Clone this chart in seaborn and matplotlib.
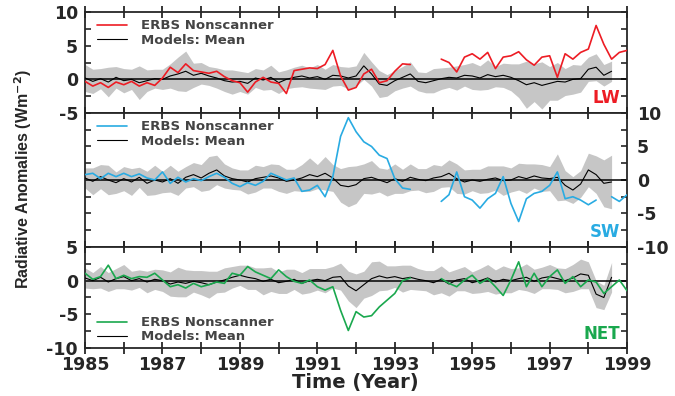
import numpy as np
import matplotlib
matplotlib.use("Agg")
import matplotlib.pyplot as plt
import seaborn as sns
from matplotlib.ticker import MultipleLocator

nan = np.nan

# 72-day time grid, 1985.0 .. 1999.0
years = np.round(np.arange(1985.0, 1999.01, 0.2), 1)

# LW panel
erbs_lw = [-0.3, -1.0, -0.5, -1.2, -0.4, -0.8, -0.3, -1.0, -0.5, -0.9,
           0.2, 1.8, 1.0, 2.3, 1.3, 1.1, 0.9, 1.2, 0.4, -0.2,
           -0.5, -1.9, -0.4, 0.3, -0.4, -0.6, -2.1, 1.3, 1.5, 1.7,
           1.6, 2.2, 4.3, 0.5, -1.6, -1.2, 0.8, 1.5, -0.5, -0.2,
           1.2, 2.3, 2.2, nan, nan, nan, 3.0, 2.5, 1.1, 3.3,
           3.8, 3.0, 4.0, 1.6, 3.3, 3.5, 4.1, 2.9, 2.1, 3.3,
           3.5, 0.3, 3.8, 3.0, 4.0, 4.5, 8.0, 5.2, 3.0, 4.0,
           4.3]
mean_lw = [0.2, -0.3, 0.1, -0.4, 0.3, -0.2, 0.0, -0.5, -0.2, 0.1,
           0.0, 0.5, 0.8, 1.2, 0.6, 0.9, 0.5, 0.2, -0.2, -0.4,
           -0.3, -0.6, 0.2, -0.1, 0.3, -0.5, 0.0, 0.3, 0.5, 0.2,
           0.4, 0.0, 0.6, 0.5, 0.2, 0.5, 2.0, 0.8, -0.7, -0.9,
           -0.2, 0.3, 0.8, -0.3, -0.5, -0.2, 0.1, 0.3, 0.2, 0.6,
           0.5, 0.2, 0.7, 0.4, 0.6, 0.3, -0.2, -0.8, -0.5, -0.9,
           -0.6, -0.3, -0.4, 0.0, 0.1, 1.5, 1.8, 0.6, 1.2, nan,
           nan]
spread_lw = [2.0, 1.8, 1.5, 2.2, 1.6, 1.8, 1.5, 2.5, 1.6, 1.4,
             1.5, 1.8, 2.5, 3.0, 1.8, 1.6, 1.4, 1.5, 1.6, 1.8,
             1.5, 1.6, 1.4, 1.5, 1.8, 1.6, 1.4, 1.5, 1.6, 1.5,
             1.8, 1.5, 1.6, 1.4, 1.6, 1.5, 2.0, 1.8, 2.0, 1.6,
             1.5, 1.6, 1.8, 1.4, 1.5, 1.8, 1.6, 1.5, 1.8, 1.6,
             2.0, 1.8, 2.2, 1.5, 1.8, 2.0, 2.5, 3.5, 2.8, 3.5,
             2.5, 2.8, 2.0, 2.2, 2.0, 1.8, 2.0, 1.6, 1.5, nan,
             nan]

# SW panel
erbs_sw = [0.8, 1.0, 0.2, 1.0, 0.5, 1.0, 0.5, 0.9, 0.3, 0.0,
           1.2, -0.5, 0.4, -0.3, 0.2, -0.1, 0.5, 1.0, 0.4, -0.5,
           -1.0, -0.4, -0.8, -0.2, 1.0, 0.5, 0.0, 0.3, -1.7, -1.5,
           -0.8, -2.5, 0.5, 6.5, 9.3, 7.2, 5.7, 5.0, 3.7, 3.2,
           0.2, -1.2, -1.4, nan, nan, nan, -3.2, -2.2, 1.2, -2.5,
           -3.0, -4.2, -2.8, -2.0, 0.5, -3.5, -6.2, -2.8, -2.0, -1.7,
           -0.8, 1.2, -2.8, -2.5, -3.0, -3.7, -3.0, nan, -2.5, -3.2,
           -2.2]
mean_sw = [0.3, -0.2, 0.5, 0.0, -0.4, 0.2, -0.3, 0.4, -0.5, 0.0,
           -0.3, 0.2, -0.5, 0.4, 0.8, 0.3, 1.0, 1.5, 0.6, 0.2,
           0.0, -0.3, 0.2, 0.4, 0.6, 0.3, -0.2, 0.0, 0.3, 0.8,
           0.5, 1.0, 0.3, -0.8, -1.0, -0.7, 0.2, 0.4, 0.0, -0.4,
           0.2, -0.2, 0.4, 0.1, -0.1, 0.3, 0.5, 1.0, 0.2, -0.3,
           0.0, -0.2, 0.1, 0.3, -0.1, 0.0, 0.5, 0.2, 0.6, 0.3,
           0.2, 0.4, -0.8, -1.5, -0.6, 1.5, 0.8, -0.5, -0.3, nan,
           nan]
spread_sw = [1.5, 2.0, 1.8, 2.2, 1.6, 1.8, 2.0, 1.5, 1.8, 2.2,
             1.6, 2.0, 1.8, 1.6, 1.8, 2.0, 2.5, 2.2, 1.8, 1.6,
             1.5, 1.8, 2.0, 1.6, 1.8, 2.0, 1.8, 1.6, 2.0, 2.5,
             1.8, 2.5, 2.0, 2.5, 3.0, 2.8, 2.2, 2.5, 1.8, 2.0,
             2.2, 1.8, 2.0, 1.6, 1.8, 2.0, 1.6, 2.0, 2.2, 1.8,
             1.6, 1.8, 2.0, 1.8, 2.2, 1.8, 2.0, 2.2, 1.8, 2.0,
             1.8, 3.5, 2.2, 2.0, 2.0, 2.5, 2.8, 3.5, 4.0, nan,
             nan]

# NET panel
erbs_net = [1.1, 0.2, 0.6, 2.3, 0.3, 0.8, 0.3, 0.6, 0.5, 1.1,
            0.1, -0.9, -0.6, -1.1, -0.4, -0.9, -0.6, -0.2, -0.4, 1.1,
            0.8, 2.1, 1.3, 0.8, 0.3, 1.6, 0.6, -0.1, -0.4, 0.1,
            -0.9, -1.4, -0.9, -4.4, -7.4, -4.6, -5.4, -5.2, -3.9, -2.9,
            -1.9, 0.0, 0.4, nan, nan, nan, 0.3, -0.4, -0.9, 0.1,
            0.8, -0.4, 0.3, -0.9, -2.2, 0.1, 2.8, -0.9, 1.1, -0.9,
            0.6, 1.6, -0.4, 0.6, -0.9, 0.1, -0.2, -1.9, -0.9, 0.1,
            -1.5]
mean_net = [0.4, 0.0, 0.5, -0.2, 0.3, 0.6, 0.0, 0.3, -0.2, 0.2,
            0.0, -0.5, -0.2, -0.4, -0.1, -0.3, -0.6, -0.2, 0.1, 0.5,
            0.8, 0.5, 0.3, -0.1, 0.2, -0.3, -0.1, 0.2, -0.4, 0.0,
            0.2, 0.0, 0.5, 0.6, -0.8, -1.5, -0.6, 0.3, 0.7, 0.4,
            0.6, 0.3, 0.5, 0.2, 0.0, -0.3, 0.2, -0.5, 0.1, 0.3,
            -0.3, 0.0, 0.4, -0.2, 0.2, 0.0, 0.3, 0.5, -0.1, 0.4,
            0.6, 0.3, 0.0, 0.4, 1.0, 0.8, -2.0, -2.5, 0.5, nan,
            nan]
spread_net = [1.5, 1.2, 1.6, 1.4, 1.5, 1.8, 1.4, 1.3, 1.6, 1.5,
              1.6, 1.8, 2.2, 2.0, 1.6, 1.8, 2.0, 1.6, 1.8, 1.6,
              1.5, 1.8, 1.6, 2.0, 1.8, 1.6, 1.8, 1.5, 1.6, 1.8,
              1.6, 1.8, 1.6, 2.0, 2.2, 2.5, 2.0, 2.5, 2.2, 1.8,
              1.6, 2.0, 1.8, 1.6, 1.5, 1.8, 2.0, 1.8, 1.6, 1.8,
              1.6, 1.8, 2.0, 1.8, 2.0, 1.8, 1.6, 2.0, 1.8, 1.6,
              1.8, 1.6, 1.8, 2.0, 2.2, 2.0, 2.0, 1.8, 2.2, nan,
              nan]

RED, BLUE, GREEN = "#ed1c24", "#29abe2", "#1aa84e"

sns.set_style("ticks")
plt.rcParams["font.family"] = ["DejaVu Sans"]
plt.rcParams["axes.unicode_minus"] = False

fig = plt.figure(figsize=(6.75, 3.96), dpi=100)
ax_lw = fig.add_axes([0.126, 0.7146, 0.803, 0.2551])
ax_sw = fig.add_axes([0.126, 0.3763, 0.803, 0.3384])
ax_net = fig.add_axes([0.126, 0.1212, 0.803, 0.2551])


def draw_panel(ax, erbs, mean, spread, color, ylim, name, name_y, leg_loc, leg_anchor):
    mean = np.array(mean)
    spread = np.array(spread)
    ax.fill_between(years, mean - spread, mean + spread, color="#c6c6c6", lw=0, zorder=1)
    ax.axhline(0, color="black", lw=1.1, zorder=2)
    sns.lineplot(x=years, y=mean, ax=ax, color="black", lw=0.8, estimator=None,
                 zorder=3, legend=False)
    # plain plot keeps the data gaps (NaN) visible
    ax.plot(years, erbs, color=color, lw=1.2, zorder=4)
    handles = [plt.Line2D([], [], color=color, lw=1.2),
               plt.Line2D([], [], color="black", lw=0.8)]
    ax.legend(handles, ["ERBS Nonscanner", "Models: Mean"], loc=leg_loc,
              bbox_to_anchor=leg_anchor, frameon=False,
              prop={"size": 9.5, "weight": "bold"}, labelcolor="#444444",
              handlelength=2.3, handletextpad=1.0, labelspacing=0.1, borderpad=0,
              borderaxespad=0)
    ax.text(0.987, name_y, name, transform=ax.transAxes, ha="right", va="center",
            color=color, fontsize=12, fontweight="bold")

    ax.set_xlim(1985, 1999)
    ax.set_ylim(*ylim)
    ax.set_xticks(range(1985, 2000))
    ax.yaxis.set_major_locator(MultipleLocator(5))
    ax.yaxis.set_minor_locator(MultipleLocator(2.5))
    ax.tick_params(axis="x", direction="inout", length=8, width=1.3, top=True, bottom=True,
                   labelbottom=False, pad=2)
    ax.tick_params(axis="y", which="both", direction="in", length=4, width=1.2,
                   left=True, right=True, labelsize=12.5, pad=5)
    for s in ax.spines.values():
        s.set_linewidth(1.3)
    ax.set_xlabel("")
    ax.set_ylabel("")


draw_panel(ax_lw, erbs_lw, mean_lw, spread_lw, RED, (-5, 10), "LW", 0.15,
           "upper left", (0.022, 0.926))
draw_panel(ax_sw, erbs_sw, mean_sw, spread_sw, BLUE, (-10, 10), "SW", 0.112,
           "upper left", (0.022, 0.944))
draw_panel(ax_net, erbs_net, mean_net, spread_net, GREEN, (-10, 5), "NET", 0.139,
           "lower left", (0.022, 0.045))

ax_lw.tick_params(axis="y", labelleft=True, labelright=False)
ax_sw.tick_params(axis="y", labelleft=False, labelright=True, pad=7)
ax_net.tick_params(axis="y", labelleft=True, labelright=False)

ax_net.tick_params(axis="x", labelbottom=True, labelsize=12.5)
ax_net.set_xticklabels([str(y) if (y - 1985) % 2 == 0 else "" for y in range(1985, 2000)],
                       fontweight="bold")
for ax in (ax_lw, ax_sw, ax_net):
    for tl in ax.get_yticklabels():
        tl.set_fontweight("bold")

fig.text(0.527, 0.033, "Time (Year)", ha="center", va="center",
         fontsize=14, fontweight="bold")
fig.text(0.035, 0.548, "Radiative Anomalies (Wm$^{\\mathbf{-2}}$)", rotation=90,
         ha="center", va="center", fontsize=11.5, fontweight="bold",
         family=["Liberation Sans", "DejaVu Sans"])

fig.savefig("out.png", dpi=100)
